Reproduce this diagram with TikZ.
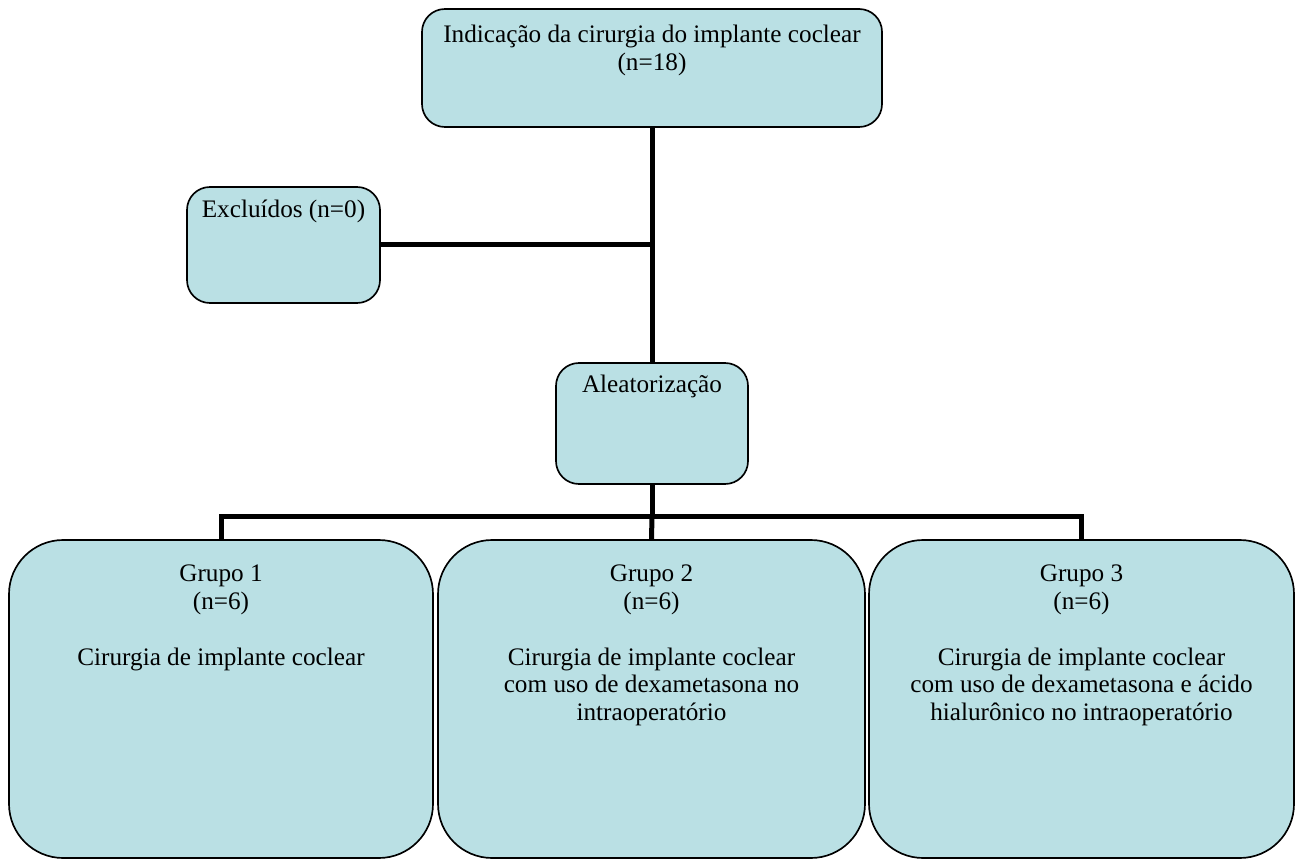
\documentclass[tikz,border=0pt]{standalone}
\usepackage{fontspec}
\setmainfont{Liberation Serif}
\usetikzlibrary{positioning,fit}
\definecolor{caixa}{RGB}{186,224,228}

\begin{document}
\begin{tikzpicture}[x=0.48pt, y=-0.48pt,
    main/.style = {draw, fill=caixa, line width=0.8pt, inner sep=0pt, rounded corners=11pt},
    grupo/.style = {main, rounded corners=26pt},
    texto/.style = {align=center, inner sep=0pt, font=\fontsize{12.1}{13.4}\selectfont},
    liga/.style = {line width=2.4pt}]
    \useasboundingbox (0,0) rectangle (1301,861);

    \node[main, fit={(422,9) (882,127)}] (indicacao) {};
    \node[texto, below=7.7pt of indicacao.north] (tIndicacao) {Indicação da cirurgia do implante coclear\\(n=18)};

    \node[main, fit={(187,187) (380,303)}] (excluidos) {};
    \node[texto, below=6.2pt of excluidos.north] (tExcluidos) {Excluídos (n=0)};

    \node[main, fit={(556,363) (748,484)}] (aleatorizacao) {};
    \node[texto, below=6.2pt of aleatorizacao.north] (tAleatorizacao) {Aleatorização};

    \node[grupo, fit={(9,540) (433,858)}] (grupo1) {};
    \node[texto, below=12pt of grupo1.north] (tGrupo1) {Grupo 1\\(n=6)\\[13.4pt]Cirurgia de implante coclear};

    \node[grupo, fit={(438,540) (865,858)}] (grupo2) {};
    \node[texto, below=12pt of grupo2.north] (tGrupo2) {Grupo 2\\(n=6)\\[13.4pt]Cirurgia de implante coclear\\com uso de dexametasona no\\intraoperatório};

    \node[grupo, fit={(869,540) (1294,858)}] (grupo3) {};
    \node[texto, below=12pt of grupo3.north] (tGrupo3) {Grupo 3\\(n=6)\\[13.4pt]Cirurgia de implante coclear\\com uso de dexametasona e ácido\\hialurônico no intraoperatório};

    \coordinate (barra) at (652,516);

    \draw[liga] (indicacao.south) -- (aleatorizacao.north);
    \draw[liga] (excluidos.east) -- (excluidos.east -| indicacao.south);
    \draw[liga] (aleatorizacao.south) -- (barra);
    \draw[liga] (grupo1.north) |- (barra) -| (grupo3.north);
    \draw[liga] (barra) -- (grupo2.north);
\end{tikzpicture}
\end{document}
